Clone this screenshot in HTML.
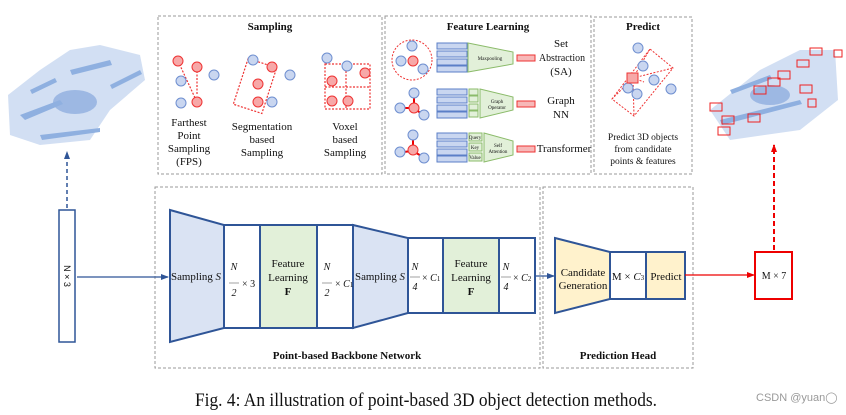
<!DOCTYPE html>
<html><head><meta charset="utf-8"><style>
body{margin:0;background:#fff}
svg{display:block}
text{font-family:"Liberation Serif",serif;fill:#111}
</style></head><body>
<svg width="846" height="415" viewBox="0 0 846 415" xmlns="http://www.w3.org/2000/svg">
<defs>
<marker id="ab" markerWidth="8" markerHeight="8" refX="7" refY="4" orient="auto" markerUnits="userSpaceOnUse"><path d="M0,1 L8,4 L0,7z" fill="#2f5597"/></marker>
<marker id="ar" markerWidth="8" markerHeight="8" refX="7" refY="4" orient="auto" markerUnits="userSpaceOnUse"><path d="M0,1 L8,4 L0,7z" fill="#e00"/></marker>
<g id="bd"><circle r="5" fill="#c9d6f0" stroke="#6f8fd0" stroke-width="1"/></g>
<g id="rd"><circle r="5" fill="#f7a8a8" stroke="#e33" stroke-width="1"/></g>
</defs>
<g fill="none" stroke="#999" stroke-width="1" stroke-dasharray="3,2">
<rect x="158" y="16" width="224" height="158"/>
<rect x="385" y="16" width="206" height="158"/>
<rect x="594" y="17" width="98" height="157"/>
<rect x="155" y="187" width="385" height="181"/>
<rect x="543" y="187" width="150" height="181"/>
</g>
<g font-weight="bold" font-size="11" text-anchor="middle">
<text x="270" y="30">Sampling</text>
<text x="488" y="30">Feature Learning</text>
<text x="643" y="30">Predict</text>
<text x="347" y="359">Point-based Backbone Network</text>
<text x="618" y="359">Prediction Head</text>
</g>
<g stroke="#e33" stroke-width="1.2" stroke-dasharray="2,1.5" fill="none">
<line x1="178" y1="61" x2="196" y2="100"/><line x1="197" y1="94" x2="197" y2="70"/>
<rect x="240" y="62" width="30" height="48" transform="rotate(18 255 86)"/>
<rect x="325" y="64" width="45" height="45"/><line x1="325" y1="87" x2="370" y2="87"/><line x1="346" y1="64" x2="346" y2="109"/>
</g>
<use href="#rd" x="178" y="61"/><use href="#rd" x="197" y="67"/><use href="#rd" x="197" y="102"/>
<use href="#bd" x="181" y="81"/><use href="#bd" x="214" y="75"/><use href="#bd" x="181" y="103"/>
<use href="#bd" x="253" y="60"/><use href="#rd" x="272" y="67"/><use href="#rd" x="258" y="84"/><use href="#rd" x="258" y="102"/><use href="#bd" x="290" y="75"/><use href="#bd" x="272" y="102"/>
<use href="#bd" x="327" y="58"/><use href="#bd" x="347" y="66"/><use href="#rd" x="365" y="73"/><use href="#rd" x="332" y="81"/><use href="#rd" x="332" y="101"/><use href="#rd" x="348" y="101"/>
<g font-size="11" text-anchor="middle">
<text x="189" y="126">Farthest</text><text x="189" y="139">Point</text><text x="189" y="152">Sampling</text><text x="189" y="165">(FPS)</text>
<text x="262" y="130">Segmentation</text><text x="262" y="143">based</text><text x="262" y="156">Sampling</text>
<text x="345" y="130">Voxel</text><text x="345" y="143">based</text><text x="345" y="156">Sampling</text>
</g>
<circle cx="412" cy="60" r="20" fill="none" stroke="#e33" stroke-dasharray="2,1.5"/>
<use href="#bd" x="412" y="46"/><use href="#bd" x="401" y="61"/><use href="#rd" x="413" y="61"/><use href="#bd" x="423" y="69"/>
<g stroke="#e00" stroke-width="2"><line x1="414" y1="98" x2="414" y2="108"/><line x1="412" y1="108" x2="402" y2="108"/><line x1="414" y1="108" x2="423" y2="115"/>
<line x1="413" y1="139" x2="413" y2="155"/><line x1="413" y1="151" x2="403" y2="152"/><line x1="413" y1="151" x2="423" y2="157"/></g>
<use href="#bd" x="414" y="93"/><use href="#bd" x="400" y="108"/><use href="#rd" x="414" y="108"/><use href="#bd" x="424" y="115"/>
<use href="#bd" x="413" y="135"/><use href="#bd" x="400" y="152"/><use href="#rd" x="413" y="150"/><use href="#bd" x="424" y="158"/>
<g fill="#c9d6f0" stroke="#5b7fc7" stroke-width="1">
<rect x="437" y="43" width="30" height="6"/><rect x="437" y="51" width="30" height="6"/><rect x="437" y="59" width="30" height="6"/><rect x="437" y="66" width="30" height="6"/>
<rect x="437" y="89" width="30" height="6"/><rect x="437" y="97" width="30" height="6"/><rect x="437" y="105" width="30" height="6"/><rect x="437" y="112" width="30" height="6"/>
<rect x="437" y="133" width="30" height="6"/><rect x="437" y="141" width="30" height="6"/><rect x="437" y="149" width="30" height="6"/><rect x="437" y="156" width="30" height="6"/>
</g>
<g fill="#e2f0d9" stroke="#8bbb6a" stroke-width="1">
<path d="M468,43 L513,52 L513,64 L468,72z"/>
<rect x="469" y="89" width="9" height="6"/><rect x="469" y="96" width="9" height="6"/><rect x="469" y="104" width="9" height="6"/><rect x="469" y="111" width="9" height="6"/>
<path d="M480,89 L513,97 L513,110 L480,118z"/>
<rect x="469" y="133" width="13" height="8"/><rect x="469" y="143" width="13" height="8"/><rect x="469" y="153" width="13" height="8"/>
<path d="M484,133 L513,141 L513,155 L484,162z"/>
</g>
<g font-size="5" text-anchor="middle"><text x="490" y="60">Maxpooling</text><text x="497" y="103">Graph</text><text x="497" y="109">Operator</text><text x="498" y="147">Self</text><text x="498" y="153">Attention</text>
<text x="475" y="139">Query</text><text x="475" y="149">Key</text><text x="475" y="159">Value</text></g>
<g fill="#f7b8b8" stroke="#e33"><rect x="517" y="55" width="18" height="6"/><rect x="517" y="101" width="18" height="6"/><rect x="517" y="146" width="18" height="6"/></g>
<g font-size="11" text-anchor="middle"><text x="561" y="47">Set</text><text x="562" y="61" textLength="46" lengthAdjust="spacingAndGlyphs">Abstraction</text><text x="561" y="75">(SA)</text>
<text x="561" y="104">Graph</text><text x="561" y="118">NN</text><text x="564" y="152">Transformer</text></g>
<g stroke="#e33" stroke-width="1" stroke-dasharray="2,1.5" fill="none"><path d="M612,99 L650,49 L673,68 L634,116z"/><line x1="633" y1="78" x2="650" y2="49"/><line x1="633" y1="78" x2="612" y2="99"/><line x1="633" y1="78" x2="634" y2="116"/><line x1="633" y1="78" x2="673" y2="68"/><line x1="633" y1="78" x2="644" y2="82"/></g>
<use href="#bd" x="638" y="48"/><use href="#bd" x="643" y="66"/><use href="#bd" x="654" y="80"/><use href="#bd" x="628" y="88"/><use href="#bd" x="637" y="94"/><use href="#bd" x="671" y="89"/>
<rect x="627" y="73" width="11" height="10" fill="#f7a8a8" stroke="#e33"/>
<g font-size="9.5" text-anchor="middle"><text x="643" y="140">Predict 3D objects</text><text x="643" y="152">from candidate</text><text x="643" y="164">points &amp; features</text></g>
<g fill="#8fb0e0">
<path d="M8,95 L40,70 L70,50 L100,45 L140,55 L145,80 L110,110 L90,140 L40,145 L10,135z" opacity="0.4"/>
<ellipse cx="75" cy="102" rx="22" ry="12" fill="#7a9fd8" opacity="0.6"/>
<path d="M20,115 L60,100 L63,104 L25,120z"/><path d="M70,70 L110,60 L112,65 L72,75z"/><path d="M40,135 L100,128 L100,132 L42,140z"/>
<path d="M30,90 L55,78 L57,82 L32,94z"/><path d="M110,85 L140,70 L142,74 L112,89z"/>
<path d="M710,110 L760,70 L800,50 L835,50 L838,100 L800,130 L730,140z" opacity="0.4"/>
<ellipse cx="770" cy="95" rx="20" ry="10" fill="#7a9fd8" opacity="0.6"/>
<path d="M720,120 L800,100 L802,104 L722,125z"/><path d="M730,90 L770,75 L772,79 L732,94z"/>
</g>
<g fill="none" stroke="#e22" stroke-width="1">
<rect x="710" y="103" width="12" height="8"/><rect x="722" y="116" width="12" height="8"/><rect x="718" y="127" width="12" height="8"/><rect x="748" y="114" width="12" height="8"/><rect x="754" y="86" width="12" height="8"/><rect x="768" y="78" width="12" height="8"/><rect x="778" y="71" width="12" height="8"/><rect x="800" y="85" width="12" height="8"/><rect x="797" y="60" width="12" height="7"/><rect x="810" y="48" width="12" height="7"/><rect x="808" y="99" width="8" height="8"/><rect x="834" y="50" width="8" height="7"/>
</g>
<line x1="67" y1="208" x2="67" y2="152" stroke="#2f5597" stroke-width="1.5" stroke-dasharray="4,3" marker-end="url(#ab)"/>
<rect x="59" y="210" width="16" height="132" fill="#fff" stroke="#2f5597" stroke-width="1.5"/>
<text transform="translate(64,276) rotate(90)" font-size="9" text-anchor="middle" style="font-family:'Liberation Sans',sans-serif">N × 3</text>
<line x1="77" y1="277" x2="168" y2="277" stroke="#2f5597" stroke-width="1.2" marker-end="url(#ab)"/>
<g stroke="#2f5597" stroke-width="2">
<path d="M170,210 L224,225 L224,328 L170,342z" fill="#dae3f3"/>
<rect x="224" y="225" width="36" height="103" fill="#fff"/>
<rect x="260" y="225" width="57" height="103" fill="#e2f0d9"/>
<rect x="317" y="225" width="36" height="103" fill="#fff"/>
<path d="M353,225 L408,238 L408,313 L353,328z" fill="#dae3f3"/>
<rect x="408" y="238" width="35" height="75" fill="#fff"/>
<rect x="443" y="238" width="56" height="75" fill="#e2f0d9"/>
<rect x="499" y="238" width="36" height="75" fill="#fff"/>
<path d="M555,238 L610,252 L610,299 L555,313z" fill="#fff2cc"/>
<rect x="610" y="252" width="36" height="47" fill="#fff"/>
<rect x="646" y="252" width="39" height="47" fill="#fff2cc"/>
</g>
<line x1="535" y1="276" x2="554" y2="276" stroke="#2f5597" stroke-width="1.2" marker-end="url(#ab)"/>
<g font-size="11" text-anchor="middle">
<text x="196" y="280" textLength="50" lengthAdjust="spacingAndGlyphs">Sampling <tspan font-style="italic">S</tspan></text>
<text x="380" y="280" textLength="50" lengthAdjust="spacingAndGlyphs">Sampling <tspan font-style="italic">S</tspan></text>
<text x="288" y="267">Feature</text><text x="288" y="281">Learning</text><text x="288" y="295" font-weight="bold">F</text>
<text x="471" y="267">Feature</text><text x="471" y="281">Learning</text><text x="471" y="295" font-weight="bold">F</text>
<text x="583" y="276">Candidate</text><text x="583" y="289">Generation</text>
<text x="628" y="280">M × <tspan font-style="italic">C</tspan><tspan font-size="7">3</tspan></text>
<text x="666" y="280">Predict</text>
</g>
<g font-size="10" font-style="italic" text-anchor="middle">
<text x="234" y="270">N</text><text x="234" y="296">2</text>
<text x="327" y="270">N</text><text x="327" y="296">2</text>
<text x="415" y="270">N</text><text x="415" y="290">4</text>
<text x="506" y="270">N</text><text x="506" y="290">4</text>
</g>
<g stroke="#888" stroke-width="0.8"><line x1="229" y1="283" x2="239" y2="283"/><line x1="322" y1="283" x2="332" y2="283"/><line x1="410" y1="277" x2="420" y2="277"/><line x1="501" y1="277" x2="511" y2="277"/></g>
<g font-size="10"><text x="242" y="287">× 3</text><text x="335" y="287">× <tspan font-style="italic">C</tspan><tspan font-size="7">1</tspan></text><text x="422" y="281">× <tspan font-style="italic">C</tspan><tspan font-size="7">1</tspan></text><text x="513" y="281">× <tspan font-style="italic">C</tspan><tspan font-size="7">2</tspan></text></g>
<line x1="685" y1="275" x2="754" y2="275" stroke="#e00" stroke-width="1.3" marker-end="url(#ar)"/>
<rect x="755" y="252" width="37" height="47" fill="#fff" stroke="#e00" stroke-width="2"/>
<text x="774" y="279" font-size="10" text-anchor="middle">M × 7</text>
<line x1="774" y1="250" x2="774" y2="145" stroke="#e00" stroke-width="2" stroke-dasharray="5,3" marker-end="url(#ar)"/>
<text x="426" y="406" font-size="18.5" text-anchor="middle" textLength="462" lengthAdjust="spacingAndGlyphs">Fig. 4: An illustration of point-based 3D object detection methods.</text>
<text x="756" y="401" font-size="11" style="font-family:'Liberation Sans',sans-serif;fill:#999">CSDN @yuan◯</text>
</svg>
</body></html>
